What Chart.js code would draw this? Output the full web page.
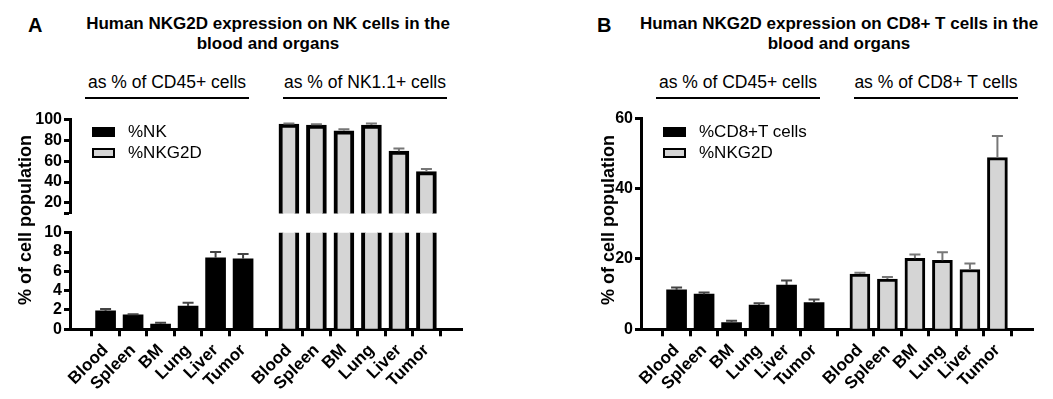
<!DOCTYPE html>
<html>
<head>
<meta charset="utf-8">
<script src="https://cdn.jsdelivr.net/npm/chart.js@4.4.1/dist/chart.umd.min.js"></script>
<style>
  body { margin: 0; background: #fff; font-family: "Liberation Sans", Arial, sans-serif; color: #000; }
  #page { position: relative; width: 1053px; height: 399px; overflow: hidden; }
  canvas { position: absolute; }
  .abs { position: absolute; white-space: nowrap; }
  .letter { font-weight: bold; font-size: 20px; line-height: 22px; }
  .title { font-weight: bold; font-size: 17px; line-height: 20px; text-align: center; width: 440px; }
  .group { font-size: 17.5px; line-height: 20px; text-align: center; width: 164px; }
  .rule { height: 2px; background: #000; width: 164px; }
  .ytitle { font-weight: bold; font-size: 18px; line-height: 20px; width: 200px; text-align: center; transform: rotate(-90deg); }
  .legbox { width: 23px; height: 10px; box-sizing: border-box; }
  .legtxt { font-size: 17px; line-height: 20px; }
</style>
</head>
<body>
<div id="page">
  <canvas id="aTop" width="480" height="125" style="left:0;top:100px"></canvas>
  <canvas id="aBottom" width="480" height="189" style="left:0;top:210px"></canvas>
  <canvas id="bChart" width="482" height="299" style="left:571px;top:100px"></canvas>
</div>
<script>
// tissues, same order in every group
const categories = ["Blood", "Spleen", "BM", "Lung", "Liver", "Tumor"];

// panel A: NK cells
const nkSeries = ["%NK", "%NKG2D"];
const nkPct = [1.9, 1.5, 0.55, 2.4, 7.4, 7.3];
const nkPctErr = [0.2, 0.05, 0.12, 0.35, 0.6, 0.5];
const nkNkg2d = [95.5, 94.5, 89, 94.5, 69.5, 50];
const nkNkg2dErr = [0.5, 0.8, 1.6, 1.5, 2.5, 2.5];
const aTopTicks = [10, 20, 40, 60, 80, 100];
const aBottomTicks = [0, 2, 4, 6, 8, 10];

// panel B: CD8+ T cells
const cd8Series = ["%CD8+T cells", "%NKG2D"];
const cd8Pct = [11.2, 10.0, 1.9, 6.9, 12.6, 7.6];
const cd8PctErr = [0.7, 0.5, 0.5, 0.5, 1.3, 0.9];
const cd8Nkg2d = [15.7, 14.3, 20.2, 19.6, 17.0, 48.8];
const cd8Nkg2dErr = [0.4, 0.6, 1.1, 2.3, 1.7, 6.2];
const bTicks = [0, 20, 40, 60];

const panels = [
  { letter: "A", dx: 0, title: "Human NKG2D expression on NK cells in the<br>blood and organs",
    groups: ["as % of CD45+ cells", "as % of NK1.1+ cells"], series: nkSeries },
  { letter: "B", dx: 571, title: "Human NKG2D expression on CD8+ T cells in the<br>blood and organs",
    groups: ["as % of CD45+ cells", "as % of CD8+ T cells"], series: cd8Series }
];

const GREY = "#d5d5d5";
const GAP = 2 / 3;   // extra room between the two groups, in bar slots
const EDGE = 0.7;    // room at both ends of the x axis, in bar slots

const pos1 = categories.map((c, i) => i);
const pos2 = categories.map((c, i) => i + categories.length + GAP);
const xTickLabels = [...categories, ...categories];

Chart.defaults.font.family = '"Liberation Sans", Arial, sans-serif';
Chart.defaults.color = "#000";

// text around the charts
const page = document.getElementById("page");
function addDiv(cls, left, top, html, extra) {
  const d = document.createElement("div");
  d.className = "abs " + cls;
  d.style.left = left + "px";
  d.style.top = top + "px";
  if (extra) Object.assign(d.style, extra);
  d.innerHTML = html;
  page.appendChild(d);
  return d;
}
panels.forEach(p => {
  addDiv("letter", 28 + p.dx - (p.letter === "B" ? 2 : 0), 14, p.letter);
  addDiv("title", 48 + p.dx, 14, p.title);
  addDiv("group", 85 + p.dx, 72, p.groups[0]);
  addDiv("group", 283 + p.dx, 72, p.groups[1]);
  addDiv("rule", 85 + p.dx, 97, "");
  addDiv("rule", 283 + p.dx, 97, "");
  addDiv("ytitle", (p.letter === "A" ? 25 : 608) - 100, 210, "% of cell population");
  addDiv("legbox", 92 + p.dx, 127, "", { background: "#000" });
  addDiv("legbox", 92 + p.dx, 148, "", { background: GREY, border: "2.5px solid #000" });
  addDiv("legtxt", 128 + p.dx, 122, p.series[0]);
  addDiv("legtxt", 128 + p.dx, 143, p.series[1]);
});

// upper-only error bars with a cap
const errorBars = {
  id: "errorBars",
  afterDatasetsDraw(chart) {
    const ctx = chart.ctx, a = chart.chartArea, ys = chart.scales.y;
    ctx.save();
    ctx.beginPath();
    ctx.rect(a.left, a.top - 2, a.right - a.left, a.bottom - a.top + 2);
    ctx.clip();
    chart.data.datasets.forEach((ds, i) => {
      ctx.strokeStyle = ds.errorColor;
      ctx.lineWidth = 2;
      chart.getDatasetMeta(i).data.forEach((bar, j) => {
        const top = ys.getPixelForValue(ds.data[j].y + ds.errors[j]);
        ctx.beginPath();
        ctx.moveTo(bar.x, bar.y);
        ctx.lineTo(bar.x, top);
        ctx.moveTo(bar.x - 5.5, top);
        ctx.lineTo(bar.x + 5.5, top);
        ctx.stroke();
      });
    });
    ctx.restore();
  }
};

function makeChart(id, o) {
  const datasets = [
    { label: o.series[0], data: pos1.map((x, i) => ({ x, y: o.first[i] })), errors: o.firstErr,
      backgroundColor: "#000", borderWidth: 0, errorColor: "#444" },
    { label: o.series[1], data: pos2.map((x, i) => ({ x, y: o.second[i] })), errors: o.secondErr,
      backgroundColor: GREY, borderColor: "#000", borderWidth: o.border, errorColor: "#777" }
  ];
  datasets.forEach(d => { d.barThickness = 20; d.grouped = false; d.clip = 0; });

  return new Chart(document.getElementById(id), {
    type: "bar",
    data: { datasets },
    plugins: [errorBars],
    options: {
      responsive: false,
      animation: false,
      layout: { padding: o.padding },
      plugins: { legend: { display: false }, tooltip: { enabled: false } },
      scales: {
        x: {
          type: "linear",
          display: o.showX,
          min: -EDGE,
          max: pos2[pos2.length - 1] + EDGE,
          afterBuildTicks: s => { s.ticks = [...pos1, ...pos2].map(value => ({ value })); },
          afterFit: s => { if (o.showX) s.height = 69.7; },
          border: { display: true, width: 3, color: "#000" },
          grid: { drawOnChartArea: false, tickLength: 7, tickWidth: 3, tickColor: "#000" },
          ticks: {
            autoSkip: false, minRotation: 45, maxRotation: 45, padding: 4, labelOffset: 0,
            font: { size: 17, weight: "bold" },
            callback: (v, i) => xTickLabels[i]
          }
        },
        y: {
          min: o.ticks[0],
          max: o.ticks[o.ticks.length - 1],
          afterBuildTicks: s => { s.ticks = o.ticks.map(value => ({ value })); },
          afterFit: s => { s.width = 70; },
          border: { display: true, width: 3, color: "#000" },
          grid: { drawOnChartArea: false, tickLength: 6, tickWidth: 3, tickColor: "#000" },
          ticks: {
            autoSkip: false,
            padding: 2,
            font: { size: 16, weight: "bold" },
            callback: v => (o.hideMin && v === o.ticks[0] ? "" : v)
          }
        }
      }
    }
  });
}

makeChart("aTop", {
  series: nkSeries, first: nkPct, firstErr: nkPctErr, second: nkNkg2d, secondErr: nkNkg2dErr,
  ticks: aTopTicks, hideMin: true, showX: false, border: 4,
  padding: { top: 19.3, bottom: 8.3, left: 0, right: 18 }
});
makeChart("aBottom", {
  series: nkSeries, first: nkPct, firstErr: nkPctErr, second: nkNkg2d, secondErr: nkNkg2dErr,
  ticks: aBottomTicks, showX: true, border: 4,
  padding: { top: 22.7, bottom: 0, left: 0, right: 18 }
});
makeChart("bChart", {
  series: cd8Series, first: cd8Pct, firstErr: cd8PctErr, second: cd8Nkg2d, secondErr: cd8Nkg2dErr,
  ticks: bTicks, showX: true, border: 3,
  padding: { top: 18.3, bottom: 0, left: 0, right: 20 }
});
</script>
</body>
</html>
